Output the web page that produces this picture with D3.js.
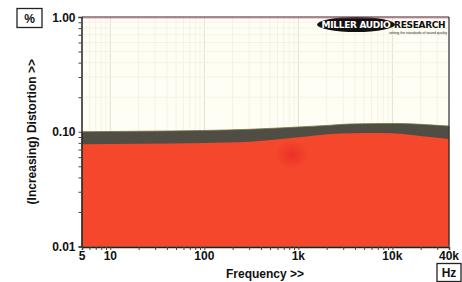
<!DOCTYPE html>
<html>
<head>
<meta charset="utf-8">
<script src="https://cdn.jsdelivr.net/npm/d3@7"></script>
<style>
  body { margin: 0; background: #fff; }
  svg { display: block; font-family: "Liberation Sans", Arial, sans-serif; font-weight: bold; }
</style>
</head>
<body>
<svg id="chart" width="462" height="282"></svg>
<script>
// frequency points (Hz)
const freqs = [5, 20, 100, 300, 1000, 2200, 3500, 8000, 12000, 20000, 40000];
// top of the dark noise band
const upperValues = [0.100, 0.101, 0.1026, 0.105, 0.110, 0.114, 0.1168, 0.118, 0.118, 0.116, 0.112];
// top of the red distortion fill
const lowerValues = [0.0777, 0.0785, 0.0798, 0.0819, 0.0895, 0.0956, 0.097, 0.0975, 0.096, 0.0918, 0.0865];

const xTicks = [5, 10, 100, 1000, 10000, 40000];
const xTickLabels = ["5", "10", "100", "1k", "10k", "40k"];
const yTicks = [0.01, 0.1, 1];
const yTickLabels = ["0.01", "0.10", "1.00"];

const svg = d3.select("#chart");
const margin = { left: 82, right: 13, top: 17, bottom: 35.5 };
const W = 462, H = 282;

const x = d3.scaleLog().domain([5, 40000]).range([margin.left, W - margin.right]);
const y = d3.scaleLog().domain([0.01, 1]).range([H - margin.bottom, margin.top]);

const defs = svg.append("defs");
const glow = defs.append("radialGradient").attr("id", "glow");
glow.append("stop").attr("offset", "0%").attr("stop-color", "#e41e2a").attr("stop-opacity", 0.55);
glow.append("stop").attr("offset", "100%").attr("stop-color", "#e41e2a").attr("stop-opacity", 0);

// plot background
svg.append("rect")
  .attr("x", x(5)).attr("y", y(1))
  .attr("width", x(40000) - x(5)).attr("height", y(0.01) - y(1))
  .attr("fill", "#fffef5");

// grid
const minorX = [];
for (let d = 1; d <= 10000; d *= 10) {
  for (let m = 1; m < 10; m++) {
    const v = d * m;
    if (v > 5 && v < 40000) minorX.push(v);
  }
}
const minorY = [];
for (let d = 0.01; d < 1; d *= 10) {
  for (let m = 1; m < 10; m++) minorY.push(d * m);
}

svg.append("g").selectAll("line").data(minorX).join("line")
  .attr("x1", d => x(d)).attr("x2", d => x(d))
  .attr("y1", y(1)).attr("y2", y(0.01))
  .attr("stroke", d => [10, 100, 1000, 10000].includes(d) ? "#e2dfd2" : "#f4f2e6")
  .attr("stroke-width", 1);

svg.append("g").selectAll("line").data(minorY).join("line")
  .attr("x1", x(5)).attr("x2", x(40000))
  .attr("y1", d => y(d)).attr("y2", d => y(d))
  .attr("stroke", "#f4f2e6")
  .attr("stroke-width", 1);

const pts = freqs.map((f, i) => ({ f, up: upperValues[i], lo: lowerValues[i] }));

// dark noise band
svg.append("path")
  .datum(pts)
  .attr("fill", "#4f4d44")
  .attr("stroke", "#76743e")
  .attr("stroke-width", 0.8)
  .attr("d", d3.area()
    .curve(d3.curveMonotoneX)
    .x(d => x(d.f))
    .y0(y(0.01))
    .y1(d => y(d.up)));

// red distortion fill
svg.append("path")
  .datum(pts)
  .attr("fill", "#f4472b")
  .attr("d", d3.area()
    .curve(d3.curveMonotoneX)
    .x(d => x(d.f))
    .y0(y(0.01))
    .y1(d => y(d.lo)));

svg.append("ellipse")
  .attr("cx", x(850)).attr("cy", y(0.063))
  .attr("rx", 16).attr("ry", 14)
  .attr("fill", "url(#glow)");

// logo
const logo = svg.append("g").attr("transform", "translate(318,22)");
logo.append("ellipse").attr("cx", 38).attr("cy", 2.5).attr("rx", 39).attr("ry", 7.5).attr("fill", "#111");
logo.append("text").attr("x", 38).attr("y", 6).attr("text-anchor", "middle")
  .attr("fill", "#fff").attr("font-size", 9).attr("font-family", "DejaVu Sans").attr("font-weight", "bold")
  .attr("letter-spacing", -0.3).text("MILLER AUDIO");
logo.append("text").attr("x", 76).attr("y", 6)
  .attr("fill", "#111").attr("font-size", 9).attr("font-family", "DejaVu Sans").attr("font-weight", "bold")
  .attr("letter-spacing", -0.3).text("RESEARCH");
logo.append("text").attr("x", 71).attr("y", 11.5)
  .attr("fill", "#222").attr("font-size", 3.5).attr("font-weight", "normal")
  .text("setting the standards of sound quality");

// frame
svg.append("line").attr("x1", x(5)).attr("x2", x(40000)).attr("y1", y(1)).attr("y2", y(1))
  .attr("stroke", "#2a2a2a").attr("stroke-width", 1.2);
svg.append("line").attr("x1", x(5)).attr("x2", x(40000)).attr("y1", y(1) + 1).attr("y2", y(1) + 1)
  .attr("stroke", "#e05080").attr("stroke-width", 0.6);
svg.append("line").attr("x1", x(40000)).attr("x2", x(40000)).attr("y1", y(1)).attr("y2", y(0.01))
  .attr("stroke", "#2a2a2a").attr("stroke-width", 1.2);

// axes
const yAxis = svg.append("g")
  .attr("transform", `translate(${x(5) - 0.5},0)`)
  .call(d3.axisLeft(y).tickValues(minorY.concat([1])).tickSize(3).tickFormat(""));
const yLabelMap = new Map(yTicks.map((t, i) => [t.toFixed(2), yTickLabels[i]]));
yAxis.selectAll(".tick").each(function(d) {
  const lab = yLabelMap.get(d.toFixed(2));
  if (lab && Math.abs(Math.log10(d) - Math.round(Math.log10(d))) < 1e-6) {
    d3.select(this).append("text")
      .attr("x", -6).attr("dy", "0.35em")
      .attr("text-anchor", "end")
      .attr("fill", "#111").attr("font-size", 12)
      .text(lab);
  }
});
yAxis.select(".domain").attr("stroke", "#222").attr("stroke-width", 1.5);
yAxis.selectAll(".tick line").attr("stroke", "#444");

const xAxis = svg.append("g")
  .attr("transform", `translate(0,${y(0.01) + 0.5})`)
  .call(d3.axisBottom(x).tickValues([5].concat(minorX, [40000])).tickSize(3).tickFormat(""));
xAxis.select(".domain").attr("stroke", "#222").attr("stroke-width", 1.5);
xAxis.selectAll(".tick line").attr("stroke", "#444");

svg.append("g").selectAll("text").data(xTicks).join("text")
  .attr("x", d => x(d)).attr("y", y(0.01) + 13.5)
  .attr("text-anchor", "middle")
  .attr("fill", "#111").attr("font-size", 12)
  .text((d, i) => xTickLabels[i]);

// axis titles
svg.append("text")
  .attr("x", 265).attr("y", 278)
  .attr("text-anchor", "middle").attr("font-size", 12).attr("fill", "#111")
  .text("Frequency >>");

svg.append("text")
  .attr("transform", `translate(36,${(y(1) + y(0.01)) / 2}) rotate(-90)`)
  .attr("text-anchor", "middle").attr("font-size", 12).attr("fill", "#111")
  .text("(Increasing) Distortion >>");

// unit boxes
svg.append("rect").attr("x", 17).attr("y", 8.5).attr("width", 25).attr("height", 19)
  .attr("fill", "#fff").attr("stroke", "#222").attr("stroke-width", 1.3);
svg.append("text").attr("x", 29.5).attr("y", 22.5).attr("text-anchor", "middle")
  .attr("font-size", 12).attr("fill", "#111").text("%");

svg.append("rect").attr("x", 437).attr("y", 263.5).attr("width", 24).attr("height", 18)
  .attr("fill", "#fff").attr("stroke", "#222").attr("stroke-width", 1.3);
svg.append("text").attr("x", 449).attr("y", 277).attr("text-anchor", "middle")
  .attr("font-size", 12).attr("fill", "#111").text("Hz");
</script>
</body>
</html>
